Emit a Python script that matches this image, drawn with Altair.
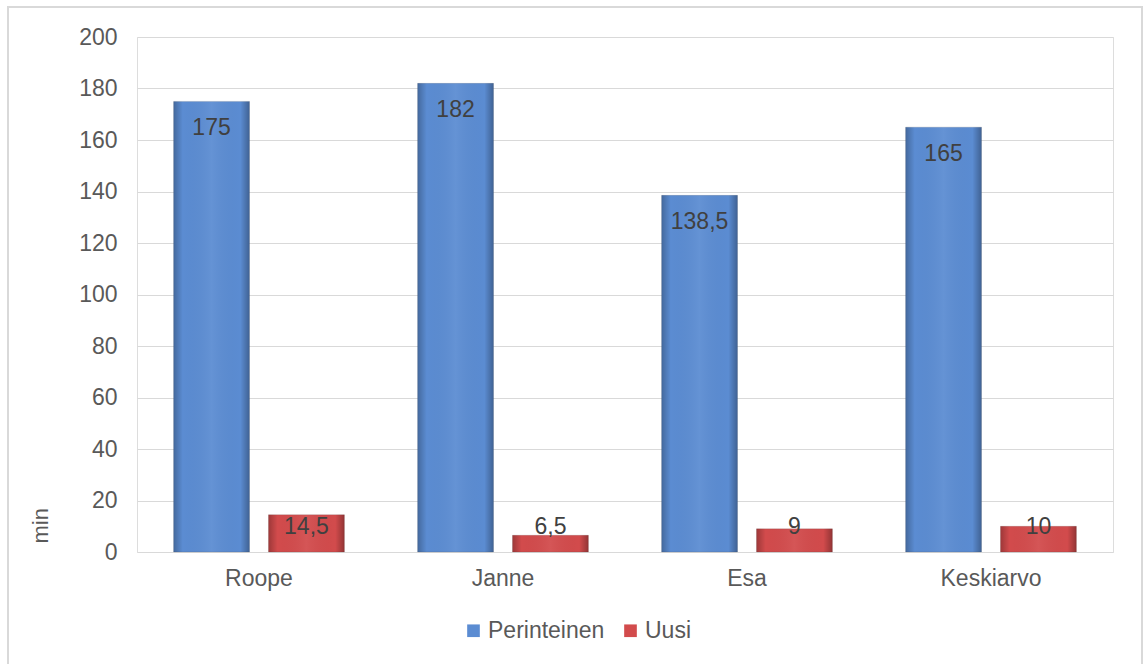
import altair as alt
import pandas as pd

categories = ["Roope", "Janne", "Esa", "Keskiarvo"]
perinteinen = [175, 182, 138.5, 165]
uusi = [14.5, 6.5, 9, 10]
series_names = ["Perinteinen", "Uusi"]
series_colors = ["#5B8CD2", "#D24B4C"]

rows = []
for c, p, u in zip(categories, perinteinen, uusi):
    rows.append({"cat": c, "series": "Perinteinen", "value": p})
    rows.append({"cat": c, "series": "Uusi", "value": u})
df = pd.DataFrame(rows)

FONT = "Liberation Sans"
W, H = 976, 515

x = alt.X("cat:N", sort=categories, title=None,
          scale=alt.Scale(paddingInner=0.3, paddingOuter=0.15),
          axis=alt.Axis(labelFontSize=23, labelColor="#595959", labelFont=FONT,
                        ticks=False, domain=False, labelPadding=15, labelAngle=0))
xoff = alt.XOffset("series:N", sort=series_names,
                   scale=alt.Scale(paddingInner=0.2, paddingOuter=0))
y = alt.Y("value:Q", title="min",
          scale=alt.Scale(domain=[0, 200]),
          axis=alt.Axis(values=list(range(0, 201, 20)), labelFontSize=23,
                        labelColor="#595959", labelFont=FONT, ticks=False,
                        domain=False, labelPadding=20, gridColor="#d9d9d9",
                        titleFontSize=22, titleFontWeight="normal", titleColor="#595959",
                        titleFont=FONT, titleAngle=-90, titleAnchor="start",
                        titleX=-97, titleY=506, titleAlign="left",
                        titleBaseline="middle"))

base = alt.Chart(df)

bars = base.mark_bar(stroke="#3a3a3a", strokeOpacity=0.15, strokeWidth=1).encode(
    x=x, xOffset=xoff, y=y,
    color=alt.Color("series:N", sort=series_names,
                    scale=alt.Scale(domain=series_names, range=series_colors),
                    legend=alt.Legend(title=None, orient="none", direction="horizontal",
                                      legendX=325, legendY=582, symbolType="square",
                                      symbolSize=160, labelFontSize=23,
                                      labelColor="#595959", labelFont=FONT,
                                      columnPadding=14, labelOffset=3,
                                      symbolStrokeWidth=0)),
)

shade = base.mark_bar(
    color=alt.LinearGradient(
        gradient="linear", x1=0, x2=1, y1=0, y2=0,
        stops=[alt.GradientStop(color="rgba(0,0,0,0.25)", offset=0),
               alt.GradientStop(color="rgba(0,0,0,0.0)", offset=0.12),
               alt.GradientStop(color="rgba(255,255,255,0.06)", offset=0.5),
               alt.GradientStop(color="rgba(0,0,0,0.0)", offset=0.88),
               alt.GradientStop(color="rgba(0,0,0,0.3)", offset=1)])
).encode(x=x, xOffset=xoff, y="value:Q")

labels = base.transform_calculate(
    ly="max(datum.value - 10.5, 9.7)",
    txt="replace(toString(datum.value), '.', ',')",
).mark_text(fontSize=23, color="#404040", font=FONT, baseline="middle").encode(
    x=x, xOffset=xoff, y="ly:Q", text="txt:N")

frame = alt.Chart(df).mark_rect(fill=None, stroke="#d9d9d9", strokeWidth=1.5).encode(
    x=alt.value(-129), x2=alt.value(1005), y=alt.value(-30), y2=alt.value(640))

chart = alt.layer(frame, bars, shade, labels).properties(
    width=W, height=H,
    autosize=alt.AutoSizeParams(type="none"),
    padding={"left": 137, "top": 37, "right": 30, "bottom": 112},
).configure_view(stroke=None).configure(background="white")

chart.save("out.html", embed_options={"renderer": "svg", "actions": False})
